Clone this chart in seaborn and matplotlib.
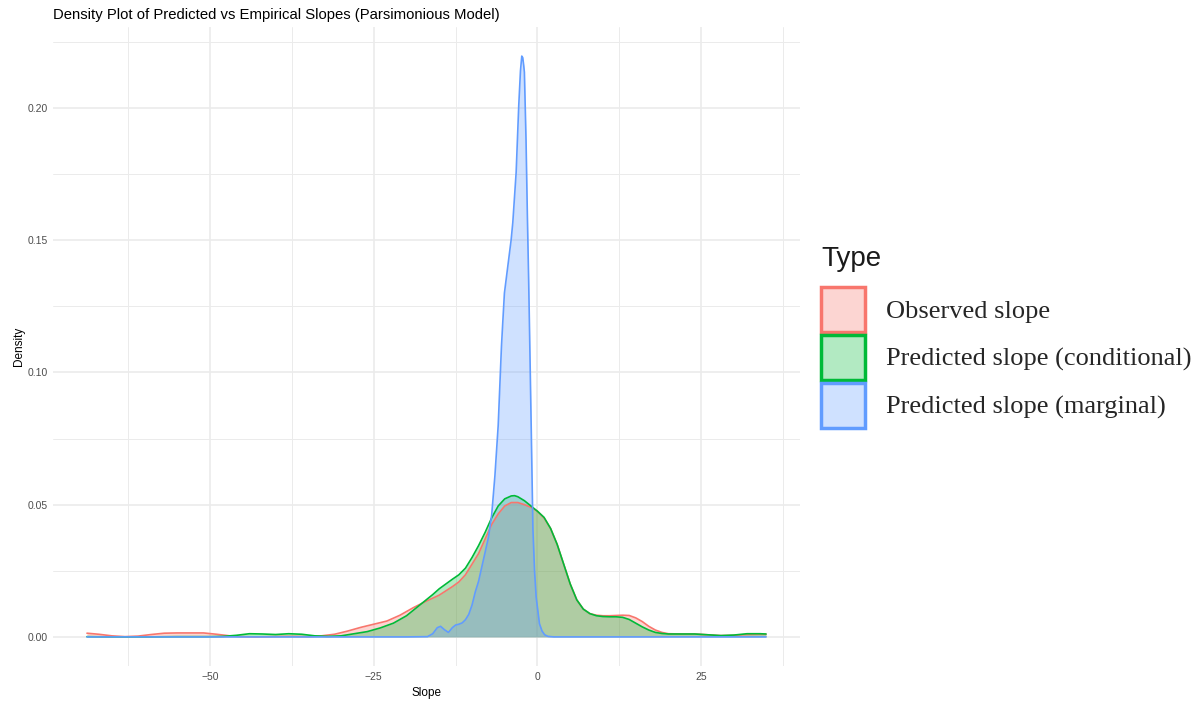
import numpy as np
import pandas as pd
import matplotlib
matplotlib.use("Agg")
import matplotlib.pyplot as plt
import seaborn as sns
from matplotlib.patches import Patch
from matplotlib.font_manager import FontProperties
from matplotlib.colors import to_rgba

# ---------------- data ----------------
types = ["Observed slope", "Predicted slope (conditional)", "Predicted slope (marginal)"]
colors = ["#F8766D", "#00BA38", "#619CFF"]

obs_x = [-68.8, -67, -65, -63, -61, -59, -57, -55, -53, -51, -49, -47, -45, -43, -41,
         -39, -37, -35, -33, -31, -29, -27, -25, -23, -21, -19, -17, -15, -13, -12,
         -11, -10, -9, -8, -7, -6, -5, -4, -3, -2, -1, 0, 1, 2, 3, 4, 5, 6, 7, 8, 9,
         10, 11, 12, 13, 14, 15, 16, 17, 18, 19, 20, 22, 24, 26, 28, 30, 32, 34, 34.9]
obs_y = [0.0014, 0.0010, 0.0004, 0.0001, 0.0003, 0.0009, 0.0014, 0.0015, 0.0015, 0.0015,
         0.0010, 0.0004, 0.0001, 0.0000, 0.0001, 0.0002, 0.0002, 0.0001, 0.0004, 0.0010,
         0.0022, 0.0036, 0.0048, 0.0060, 0.0082, 0.0110, 0.0135, 0.0158, 0.0190, 0.0208,
         0.0235, 0.0275, 0.0315, 0.0370, 0.0425, 0.0465, 0.0495, 0.0508, 0.0508, 0.0500,
         0.0490, 0.0475, 0.0450, 0.0410, 0.0350, 0.0275, 0.0200, 0.0140, 0.0105, 0.0088,
         0.0082, 0.0080, 0.0080, 0.0081, 0.0082, 0.0081, 0.0072, 0.0058, 0.0040, 0.0026,
         0.0017, 0.0012, 0.0011, 0.0011, 0.0008, 0.0005, 0.0006, 0.0009, 0.0010, 0.0010]

cond_x = [-68.8, -65, -60, -55, -50, -48, -46, -44, -42, -40, -38, -36, -34, -32, -30,
          -28, -26, -24, -22, -20, -18, -16, -15, -14, -13, -12, -11, -10, -9, -8, -7,
          -6, -5, -4, -3.5, -3, -2, -1, 0, 1, 2, 3, 4, 5, 6, 7, 8, 9, 10, 11, 12, 13,
          14, 15, 16, 17, 18, 19, 20, 22, 24, 26, 28, 30, 32, 34, 34.9]
cond_y = [0.0001, 0.0000, 0.0000, 0.0001, 0.0001, 0.0002, 0.0006, 0.0012, 0.0011, 0.0009,
          0.0012, 0.0010, 0.0004, 0.0002, 0.0004, 0.0012, 0.0020, 0.0034, 0.0052, 0.0080,
          0.0120, 0.0160, 0.0182, 0.0200, 0.0218, 0.0235, 0.0260, 0.0300, 0.0345, 0.0395,
          0.0450, 0.0495, 0.0522, 0.0533, 0.0534, 0.0530, 0.0515, 0.0495, 0.0475, 0.0452,
          0.0410, 0.0350, 0.0275, 0.0200, 0.0140, 0.0105, 0.0088, 0.0080, 0.0077, 0.0076,
          0.0076, 0.0074, 0.0066, 0.0052, 0.0038, 0.0026, 0.0017, 0.0013, 0.0011, 0.0011,
          0.0011, 0.0008, 0.0005, 0.0007, 0.0012, 0.0012, 0.0011]

marg_x = [-68.8, -20, -16.8, -16, -15.3, -14.8, -14.2, -13.6, -13, -12.5, -12, -11.5,
          -11, -10.5, -10, -9.5, -9, -8.5, -8, -7.5, -7, -6.5, -6, -5.5, -5.3, -5.05,
          -4.54, -4.03, -3.77, -3.26, -2.86, -2.6, -2.4, -2.25, -2.1, -2.0, -1.75, -1.55,
          -1.35, -1.2, -0.95, -0.7, -0.45, -0.2, 0.3, 0.7, 1.1, 1.6, 2.5, 34.9]
marg_y = [0.0, 0.0, 0.0001, 0.0012, 0.0035, 0.0040, 0.0027, 0.0017, 0.0035, 0.0045,
          0.0048, 0.0053, 0.0065, 0.0085, 0.0120, 0.0170, 0.0210, 0.0265, 0.0320, 0.0375,
          0.0460, 0.0610, 0.0800, 0.1100, 0.1190, 0.1300, 0.1400, 0.1500, 0.1567, 0.1756,
          0.2010, 0.2140, 0.2196, 0.2190, 0.2160, 0.2135, 0.1880, 0.1600, 0.1350, 0.1140,
          0.0780, 0.0410, 0.0250, 0.0150, 0.0050, 0.0022, 0.0008, 0.0002, 0.0, 0.0]

df = pd.concat([
    pd.DataFrame({"Slope": obs_x, "Density": obs_y, "Type": types[0]}),
    pd.DataFrame({"Slope": cond_x, "Density": cond_y, "Type": types[1]}),
    pd.DataFrame({"Slope": marg_x, "Density": marg_y, "Type": types[2]}),
], ignore_index=True)

# ---------------- style ----------------
sns.set_style("white")
plt.rcParams["font.family"] = ["Liberation Sans", "DejaVu Sans"]

W, H = 1204, 701
fig = plt.figure(figsize=(W / 100, H / 100), dpi=100)
pl, pr, pt, pb = 53, 800, 27, 666
ax = fig.add_axes([pl / W, 1 - pb / H, (pr - pl) / W, (pb - pt) / H])

grid_col = "#EBEBEB"
for t, c in zip(types, colors):
    sub = df[df["Type"] == t]
    ax.fill_between(sub["Slope"], sub["Density"], color=c, alpha=0.3, linewidth=0, zorder=2)
    sns.lineplot(data=sub, x="Slope", y="Density", color=c, linewidth=1.2, ax=ax,
                 estimator=None, sort=True, zorder=3)

ax.set_xlim(-73.99, 40.09)
ax.set_ylim(-0.011, 0.2306)
ax.set_xticks([-50, -25, 0, 25])
ax.set_xticks([-62.5, -37.5, -12.5, 12.5, 37.5], minor=True)
ax.set_yticks([0.0, 0.05, 0.10, 0.15, 0.20])
ax.set_yticks([0.025, 0.075, 0.125, 0.175, 0.225], minor=True)
ax.set_yticklabels(["0.00", "0.05", "0.10", "0.15", "0.20"])
ax.grid(which="major", color=grid_col, linewidth=1.2, zorder=0)
ax.grid(which="minor", color=grid_col, linewidth=0.7, zorder=0)
ax.set_axisbelow(True)
for s in ax.spines.values():
    s.set_visible(False)
ax.tick_params(which="both", length=0, labelsize=7.5, labelcolor="#4D4D4D", pad=4)
ax.set_xlabel("Slope", fontsize=8.5, color="black", labelpad=4)
ax.set_ylabel("Density", fontsize=8.5, color="black", labelpad=1.8)

fig.text(pl / W, 1 - 15 / H, "Density Plot of Predicted vs Empirical Slopes (Parsimonious Model)",
         fontsize=10.7, ha="left", va="center", color="black")

# legend title drawn as text, entries as a legend
fig.text(821 / W, 1 - 259 / H, "Type", fontsize=20, ha="left", va="center",
         color="#1a1a1a", family="Liberation Sans")
handles = [Patch(facecolor=to_rgba(c, 0.3), edgecolor=c, linewidth=2.5) for c in colors]
leg = fig.legend(handles, types, loc="upper left", bbox_to_anchor=(821 / W, 1 - 287 / H),
                 frameon=False,
                 prop=FontProperties(family="Liberation Serif", size=19),
                 handlelength=1.65, handleheight=2.24, handletextpad=0.8,
                 labelspacing=0.115, borderpad=0, borderaxespad=0)

fig.savefig("out.png", dpi=100)
